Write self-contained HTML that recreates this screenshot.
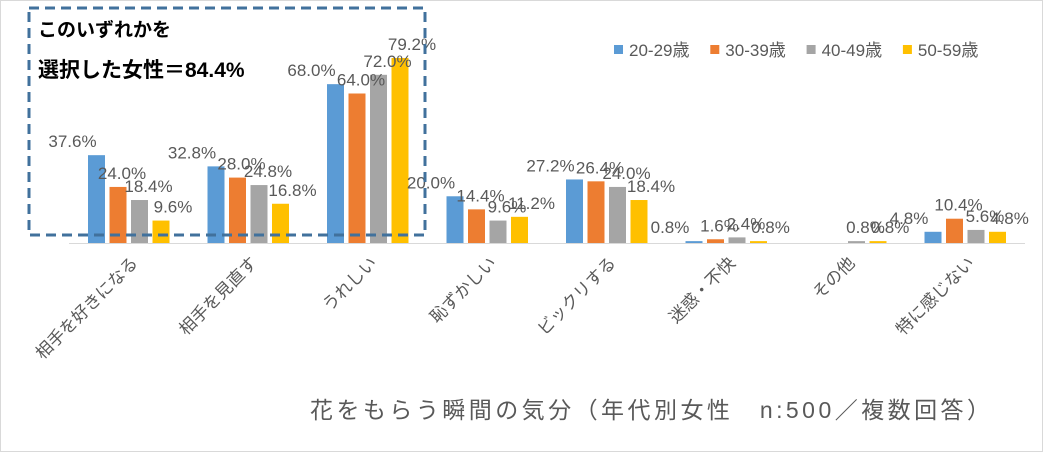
<!DOCTYPE html>
<html><head><meta charset="utf-8">
<style>
html,body{margin:0;padding:0;background:#fff;}
svg text{font-family:"Liberation Sans","Noto Sans CJK JP",sans-serif;}
</style></head>
<body>
<svg id="chart" width="1043" height="452" xmlns="http://www.w3.org/2000/svg">
<rect x="0.5" y="0.5" width="1042" height="451" fill="#fff" stroke="#d9d9d9" stroke-width="1"/>
<line x1="69" y1="243.5" x2="1025" y2="243.5" stroke="#d9d9d9" stroke-width="1"/>
<g id="bars"></g>
<g id="labels"></g>
<g id="cats"></g>
<g id="legend"></g>
<rect x="29" y="8" width="396" height="227" fill="none" stroke="#41719c" stroke-width="3" stroke-dasharray="10,6"/>
<text x="38" y="36" font-size="19" font-weight="bold" fill="#000">このいずれかを</text>
<text x="38" y="77" font-size="21" font-weight="bold" fill="#000">選択した女性＝84.4%</text>
<text x="310" y="418" font-size="23" fill="#595959" textLength="680" lengthAdjust="spacing">花をもらう瞬間の気分（年代別女性　n:500／複数回答）</text>
</svg>
<script>
const categories=["相手を好きになる","相手を見直す","うれしい","恥ずかしい","ビックリする","迷惑・不快","その他","特に感じない"];
const seriesNames=["20-29歳","30-39歳","40-49歳","50-59歳"];
const s20=[37.6,32.8,68.0,20.0,27.2,0.8,0,4.8];
const s30=[24.0,28.0,64.0,14.4,26.4,1.6,0,10.4];
const s40=[18.4,24.8,72.0,9.6,24.0,2.4,0.8,5.6];
const s50=[9.6,16.8,79.2,11.2,18.4,0.8,0.8,4.8];
const series=[s20,s30,s40,s50];
const colors=["#5b9bd5","#ed7d31","#a5a5a5","#ffc000"];
const labelDx=[-24,4,9,12];
const NS="http://www.w3.org/2000/svg";
const baseY=243, pxPer=2.336, x0=69, groupW=119.5, barW=17, pitch=21.5;
function xBand(i){return x0+groupW*(i+0.5);}
function yScale(v){return baseY-v*pxPer;}
const bars=document.getElementById('bars'),labels=document.getElementById('labels'),cats=document.getElementById('cats'),legend=document.getElementById('legend');
categories.forEach((c,i)=>{
  const cx=xBand(i);
  series.forEach((s,k)=>{
    const v=s[i];
    const bx=cx-2*pitch+k*pitch+(pitch-barW)/2;
    const r=document.createElementNS(NS,'rect');
    
    
    r.setAttribute('x',bx);r.setAttribute('y',yScale(v));
    r.setAttribute('width',barW);r.setAttribute('height',baseY-yScale(v));
    r.setAttribute('fill',colors[k]);
    bars.appendChild(r);
    if(v>0){
      const t=document.createElementNS(NS,'text');
      
      
      t.setAttribute('x',bx+barW/2+labelDx[k]);t.setAttribute('y',yScale(v)-8);
      t.setAttribute('text-anchor','middle');t.setAttribute('font-size','17');t.setAttribute('fill','#595959');
      t.textContent=v.toFixed(1)+'%';
      labels.appendChild(t);
    }
  });
  const t=document.createElementNS(NS,'text');
  
  
  t.setAttribute('x',cx+10);t.setAttribute('y',264);
  t.setAttribute('text-anchor','end');t.setAttribute('font-size','17');t.setAttribute('fill','#595959');
  t.setAttribute('transform','rotate(-45 '+(cx+10)+' 264)');
  t.textContent=c;
  cats.appendChild(t);
});
seriesNames.forEach((n,k)=>{
  const lx=614+k*96.3;
  const r=document.createElementNS(NS,'rect');
  
  
  r.setAttribute('x',lx);r.setAttribute('y',45);r.setAttribute('width',9);r.setAttribute('height',9);r.setAttribute('fill',colors[k]);
  legend.appendChild(r);
  const t=document.createElementNS(NS,'text');
  
  
  t.setAttribute('x',lx+15);t.setAttribute('y',56);t.setAttribute('font-size','17');t.setAttribute('fill','#595959');
  t.textContent=n;
  legend.appendChild(t);
});
</script>
</body></html>
